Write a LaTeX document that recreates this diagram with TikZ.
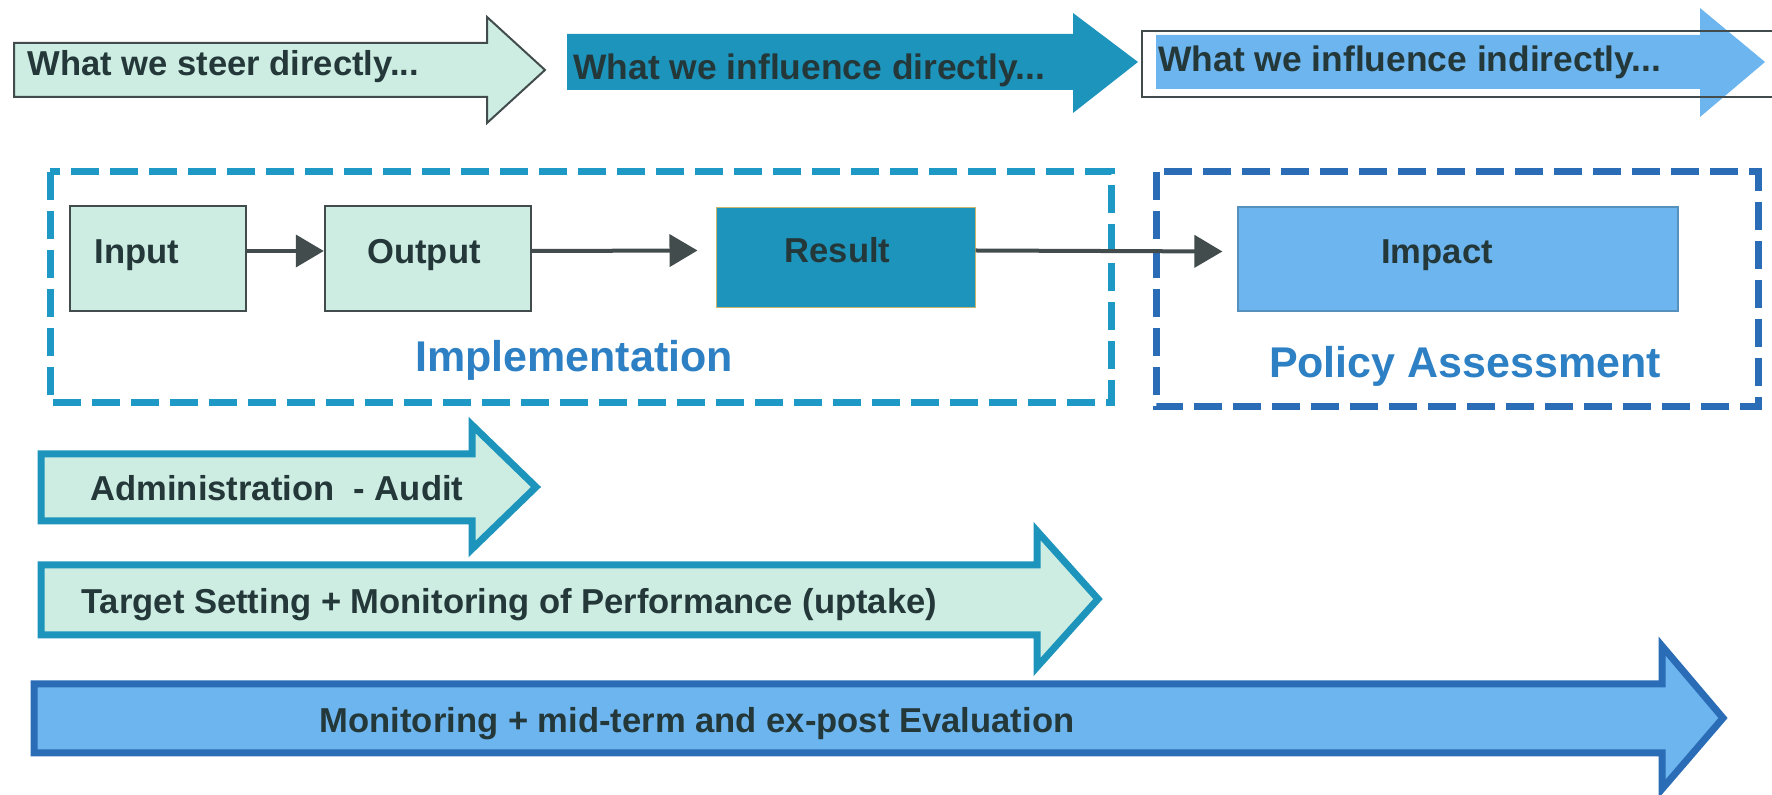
\documentclass[tikz,border=0pt]{standalone}
\usepackage{fontspec}
\setmainfont{Liberation Sans}
\usetikzlibrary{arrows.meta,calc}
\definecolor{pol_mint}{RGB}{205, 237, 227}
\definecolor{pol_teal}{RGB}{28, 148, 188}
\definecolor{pol_sky}{RGB}{108, 181, 238}
\definecolor{pol_navy}{RGB}{43, 108, 182}
\definecolor{pol_dash}{RGB}{30, 152, 196}
\definecolor{pol_ink}{RGB}{36, 56, 58}
\definecolor{pol_grey}{RGB}{66, 76, 76}
\definecolor{pol_label}{RGB}{46, 128, 196}
\definecolor{pol_khaki}{RGB}{200, 182, 110}
\tikzstyle{lbl}=[font=\fontsize{17.3}{20}\selectfont\bfseries,text=pol_ink,
  inner sep=0pt,text height=12.5pt,text depth=3.6pt]
\tikzstyle{widelbl}=[lbl,font=\fontsize{17.7}{20}\selectfont\bfseries]
\tikzstyle{bigl}=[font=\fontsize{21.5}{24}\selectfont\bfseries,text=pol_label,
  inner sep=0pt]
\tikzstyle{stepbox}=[rectangle,lbl,fill=pol_mint,draw=pol_grey,
  line width=1.2pt,text depth=7.6pt,minimum height=52.5pt]
\tikzstyle{conn}=[draw=pol_grey,line width=2pt,
  -{Triangle[length=14pt,width=16pt]}]
\tikzstyle{steerarrow}=[fill=pol_mint,draw=pol_grey,line width=1pt]
\tikzstyle{auditarrow}=[fill=pol_mint,draw=pol_teal,line width=3.5pt]
\tikzstyle{evalarrow}=[fill=pol_sky,draw=pol_navy,line width=3.5pt]
\tikzstyle{impbox}=[draw=pol_dash,line width=3.5pt,
  dash pattern=on 14pt off 5.5pt]
\tikzstyle{polbox}=[draw=pol_navy,line width=3.5pt,
  dash pattern=on 14pt off 5.5pt]

\begin{document}
\begin{tikzpicture}[x=0.5pt,y=-0.5pt]
        \useasboundingbox (0,0) rectangle (1772,795);
        % top row
        \draw[steerarrow] (14,43) -- (487,43) -- (487,17) -- (545,70)
          -- (487,123) -- (487,97) -- (14,97) -- cycle;
        \node[lbl,anchor=west] (steer) at (27,67) {What we steer directly...};
        \fill[pol_teal] (567,34) -- (1073,34) -- (1073,13) -- (1138,62)
          -- (1073,113) -- (1073,90) -- (567,90) -- cycle;
        \node[widelbl,anchor=west] (infdir) at (573,71) {What we influence directly...};
        \fill[pol_sky] (1156,35) -- (1700,35) -- (1700,8) -- (1765,62)
          -- (1700,117) -- (1700,89) -- (1156,89) -- cycle;
        \draw[pol_grey,line width=1pt] (1772,31) -- (1142,31) -- (1142,97) -- (1772,97);
        \node[widelbl,anchor=west] (infind) at (1158,63) {What we influence indirectly...};
        % middle row
        \draw[impbox] (50,172) rectangle (1111,403);
        \draw[polbox] (1156,172) rectangle (1758,407);
        \node[stepbox,minimum width=88pt] (input) at (158,258.5) {\hspace*{-21pt}Input};
        \node[stepbox,minimum width=103pt] (output) at (428,258.5) {\hspace*{-4pt}Output};
        \node[stepbox,minimum width=129.5pt,minimum height=50pt,fill=pol_teal,
          draw=pol_khaki,line width=0.5pt] (result) at (845.5,258) {\hspace*{-8pt}Result};
        \node[stepbox,minimum width=220pt,minimum height=52pt,fill=pol_sky,
          draw=pol_sky!80!black,line width=0.6pt] (impact) at (1458,259) {\hspace*{-21pt}Impact};
        \draw[conn] ([yshift=3.75pt]input.east) -- ([yshift=3.75pt]output.west);
        \draw[conn] ([yshift=3.75pt]output.east) -- ([yshift=3.75pt,xshift=-9pt]result.west);
        \draw[conn] ([yshift=3.75pt]result.east) -- ([yshift=3.75pt,xshift=-7.5pt]impact.west);
        \node[bigl] (impl) at (574,360) {Implementation};
        \node[bigl] (polas) at (1465,366) {Policy Assessment};
        % bottom rows
        \draw[auditarrow] (41,454) -- (472,454) -- (472,425) -- (536,487)
          -- (472,549) -- (472,521) -- (41,521) -- cycle;
        \node[lbl,anchor=west] (audit) at (90,492) {Administration\ \ - Audit};
        \draw[auditarrow] (41,565) -- (1037,565) -- (1037,531) -- (1098,599)
          -- (1037,667) -- (1037,635) -- (41,635) -- cycle;
        \node[lbl,anchor=west] (target) at (81,605) {Target Setting + Monitoring of Performance (uptake)};
        \draw[evalarrow] (34,684) -- (1662,684) -- (1662,646) -- (1723,718)
          -- (1662,789) -- (1662,753) -- (34,753) -- cycle;
        \node[lbl] (eval) at (697,724) {Monitoring + mid-term and ex-post Evaluation};
    \end{tikzpicture}
\end{document}
